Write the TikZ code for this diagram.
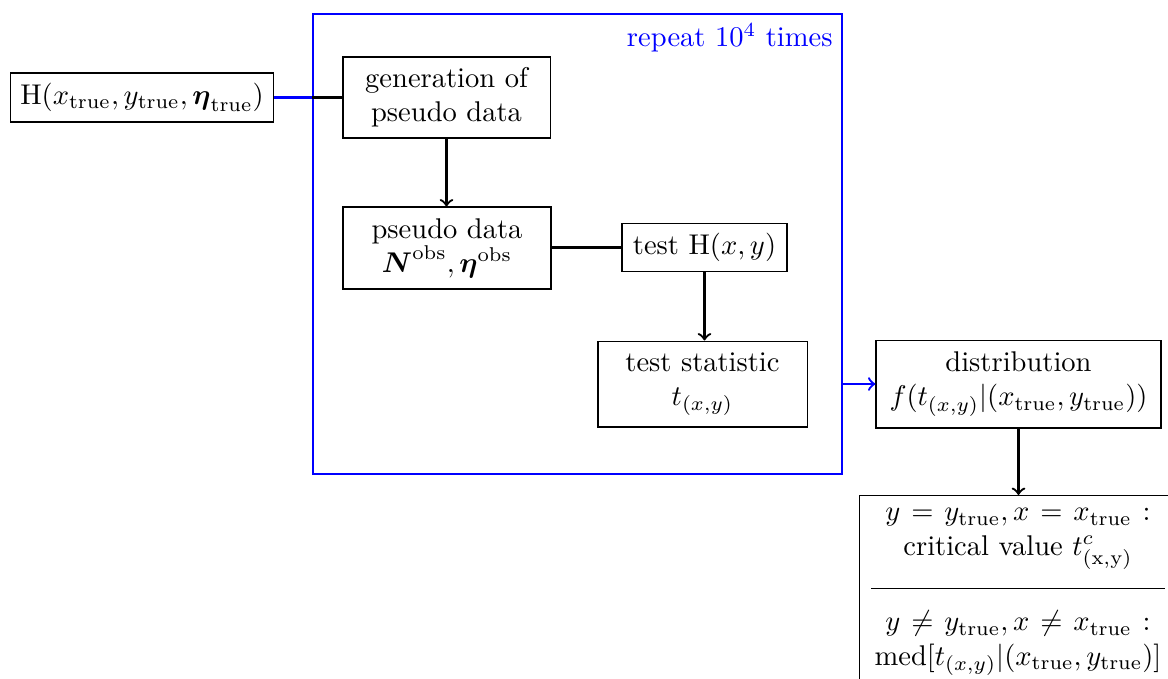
\documentclass[tikz,border=0pt]{standalone}
\usepackage{amsmath}
\begin{document}
\begin{tikzpicture}[x=0.3505pt, y=-0.3505pt,
  box/.style={draw, align=center, inner sep=3.33pt},
  conn/.style={thick},
  arr/.style={thick, ->},
  repbox/.style={draw=blue, thick, minimum width=185.4pt, minimum height=161.2pt, inner sep=0pt}]
\useasboundingbox (0,0) rectangle (1168,678);
\node[repbox] (rep) at (577.5,244) {};
\node[anchor=north east, text=blue, inner sep=3.5pt] (replabel) at (rep.north east) {repeat $10^4$ times};
\node[box, minimum width=91.8pt, minimum height=17.2pt] (H) at (142,97.5) {H($x_{\rm true}, y_{\rm true}, \boldsymbol{\eta}_{\rm true}$)};
\node[box, minimum width=72.6pt, minimum height=28.4pt] (gen) at (446.5,97.5) {generation of\\pseudo data};
\node[box, minimum width=72.9pt, minimum height=28.7pt] (pd) at (447,248) {pseudo data\\$\boldsymbol{N}^{\rm obs}, \boldsymbol{\eta}^{\rm obs}$};
\node[box, minimum width=57.8pt, minimum height=16.5pt] (test) at (704.5,247.5) {test H($x,y$)};
\node[box, minimum width=73.3pt, minimum height=30.1pt] (stat) at (702.5,384) {test statistic\\$t_{(x,y)}$};
\node[box, minimum width=99.9pt, minimum height=30.8pt] (dist) at (1018.5,384) {distribution\\$f(t_{(x,y)}|(x_{\rm true}, y_{\rm true}))$};
\node[box, anchor=north, inner ysep=0.5pt, inner xsep=3.9pt] (res) at (1018,495) {\begin{tabular}{@{\hspace{1.25pt}}c@{\hspace{1.25pt}}}
\hbox to 93pt{$y = y_{\rm true}, x = x_{\rm true} :$}\\
critical value $t^c_{\rm (x,y)}$\\[8pt]
\hline
\rule{0pt}{14.5pt}\hbox to 93pt{$y \neq y_{\rm true}, x \neq x_{\rm true} :$}\\
med$[t_{(x,y)}|(x_{\rm true}, y_{\rm true})]$\rule[-7pt]{0pt}{7pt}
\end{tabular}};
\coordinate (hb) at (H.east -| rep.west);
\draw[blue, thick] (H.east) -- (hb);
\draw[conn] (hb) -- (gen.west);
\draw[arr] (gen.south) -- (gen.south |- pd.north);
\draw[conn] (pd.east |- test.west) -- (test.west);
\draw[arr] (test.south) -- (test.south |- stat.north);
\draw[blue, thick, ->] (rep.east |- dist.west) -- (dist.west);
\draw[arr] (dist.south) -- (dist.south |- res.north);
\end{tikzpicture}
\end{document}
